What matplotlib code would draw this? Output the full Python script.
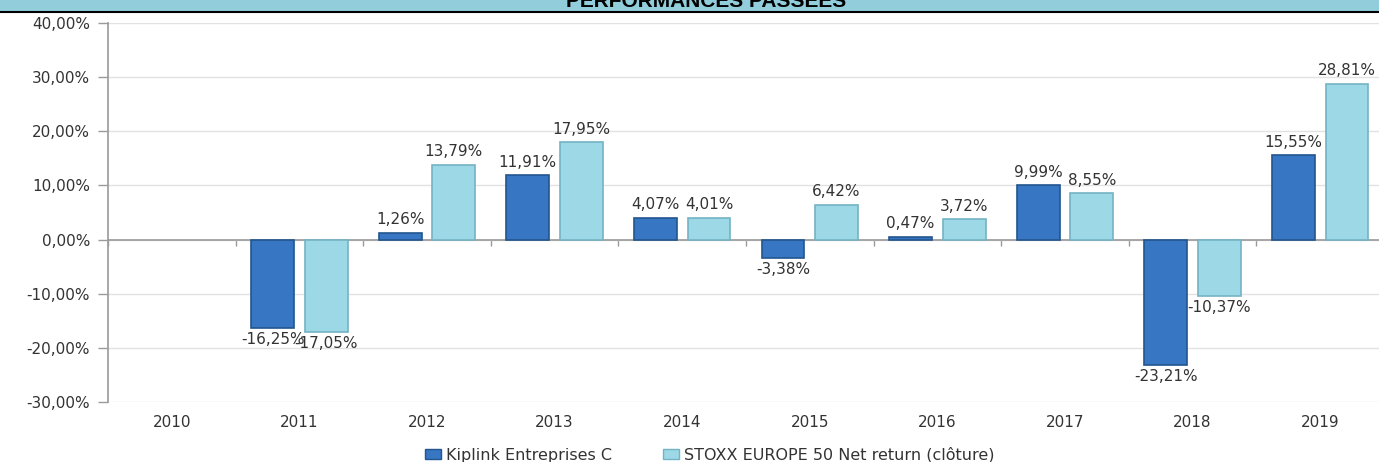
import matplotlib
matplotlib.use("Agg")
import matplotlib.pyplot as plt
import numpy as np
from matplotlib.patches import Rectangle, Patch
from matplotlib.lines import Line2D
import matplotlib.transforms as mtransforms

years = ["2010", "2011", "2012", "2013", "2014", "2015", "2016", "2017", "2018", "2019"]
fund = [np.nan, -16.25, 1.26, 11.91, 4.07, -3.38, 0.47, 9.99, -23.21, 15.55]
index = [np.nan, -17.05, 13.79, 17.95, 4.01, 6.42, 3.72, 8.55, -10.37, 28.81]
series_names = ["Kiplink Entreprises C", "STOXX EUROPE 50 Net return (clôture)"]
yticks = [40, 30, 20, 10, 0, -10, -20, -30]
title = "PERFORMANCES PASSEES"

W, H = 1379, 462
fig = plt.figure(figsize=(W / 100, H / 100), dpi=100)
fig.patch.set_facecolor("white")

left = 108 / W
right = 1384 / W
bottom = 1 - 402 / H
top = 1 - 23 / H
ax = fig.add_axes([left, bottom, right - left, top - bottom])
ax.set_xlim(-0.5, len(years) - 0.5)
ax.set_ylim(-30, 40)

dark = "#3676C2"
dark_edge = "#23558F"
light = "#9DD8E7"
light_edge = "#74B3C4"
txt = "#333333"
fs = 11

x = np.arange(len(years))
bw = 0.335
off = 0.21
ax.bar(x - off, fund, bw, color=dark, edgecolor=dark_edge, linewidth=1.2, zorder=3)
ax.bar(x + off, index, bw, color=light, edgecolor=light_edge, linewidth=1.2, zorder=3)


def fmt(v):
    return f"{v:.2f}%".replace(".", ",")


for xs, vals in ((x - off, fund), (x + off, index)):
    for xi, v in zip(xs, vals):
        if np.isnan(v):
            continue
        if v >= 0:
            ax.annotate(fmt(v), (xi, v), xytext=(0, 4), textcoords="offset points",
                        ha="center", va="bottom", fontsize=fs, color=txt, zorder=5)
        else:
            ax.annotate(fmt(v), (xi, v), xytext=(0, -3), textcoords="offset points",
                        ha="center", va="top", fontsize=fs, color=txt, zorder=5)

ax.set_yticks(yticks)
ax.set_yticklabels([fmt(t) for t in yticks], fontsize=fs, color=txt)
ax.yaxis.grid(True, color="#E2E2E2", linewidth=1.0, zorder=0)
ax.set_axisbelow(True)
ax.tick_params(axis="y", length=7, color="#9A9A9A", width=1, pad=6)

for s in ["top", "right"]:
    ax.spines[s].set_visible(False)
ax.spines["left"].set_color("#9A9A9A")
ax.spines["left"].set_linewidth(1.2)
ax.spines["bottom"].set_position(("data", 0))
ax.spines["bottom"].set_color("#9A9A9A")
ax.spines["bottom"].set_linewidth(1.2)
ax.spines["bottom"].set_zorder(2)

ax.set_xticks(x)
ax.set_xticklabels([])
ax.tick_params(axis="x", which="major", length=0)
ax.set_xticks(np.arange(len(years) + 1) - 0.5, minor=True)
ax.tick_params(axis="x", which="minor", length=4, direction="out", color="#9A9A9A", width=1)

trans = mtransforms.blended_transform_factory(ax.transData, ax.transAxes)
for xi, yl in zip(x, years):
    ax.text(xi, -0.055, yl, transform=trans, ha="center", va="center", fontsize=fs, color=txt)

# banner
fig.patches.append(Rectangle((0, 1 - 11 / H), 1, 11 / H, transform=fig.transFigure,
                             facecolor="#92CDDC", edgecolor="none", zorder=0))
fig.lines.append(Line2D([0, 1], [1 - 11.5 / H, 1 - 11.5 / H], transform=fig.transFigure,
                        color="black", linewidth=1.5))
fig.text(706 / W, 1 - 7 / H, title, ha="center", va="baseline", fontsize=15,
         fontweight="bold", family="Liberation Sans", color="black")

handles = [Patch(facecolor=dark, edgecolor=dark_edge), Patch(facecolor=light, edgecolor=light_edge)]
fig.legend(handles, series_names, loc="center", bbox_to_anchor=(710 / W, 1 - 455 / H),
           ncol=2, frameon=False, fontsize=11.5, handlelength=1.0, handleheight=0.55,
           handletextpad=0.3, columnspacing=3.2, labelcolor=txt, borderpad=0)

fig.savefig("out.png", dpi=100)
